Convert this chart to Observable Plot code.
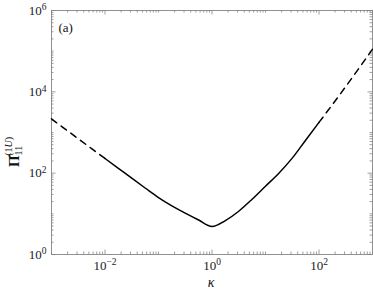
<!DOCTYPE html>
<html><head><meta charset="utf-8">
<script src="https://cdn.jsdelivr.net/npm/d3@7"></script>
<script src="https://cdn.jsdelivr.net/npm/@observablehq/plot@0.6"></script>
<style>body{margin:0;background:#fff}svg{display:block}
svg text{font-family:"Liberation Serif","DejaVu Serif",serif !important}</style>
</head><body><div id="chart"></div>
<script>
// data
const kappa = [0.001, 0.001778, 0.003162, 0.005623, 0.01, 0.01778, 0.03162, 0.05623, 0.1, 0.1778, 0.3162, 0.5623, 1, 1.778, 3.162, 5.623, 10, 17.78, 31.62, 56.23, 100, 177.8, 316.2, 562.3, 1000];
const pi11  = [2158, 1230, 701.5, 400.9, 229.6, 131.5, 75.2, 43.2, 25.1, 15.7, 10.4, 7.05, 4.90, 6.84, 11.6, 22.9, 47.9, 100, 234, 646, 1778, 4842, 13490, 38460, 112200];
const solidRange = [0.01, 100];
const xTickLabels = [1e-2, 1, 1e2];
const xTickExp = ["−2", "0", "2"];
const yTickLabels = [1, 1e2, 1e4, 1e6];
const yTickExp = ["0", "2", "4", "6"];

const rows = kappa.map((k, i) => ({k, v: pi11[i]}));
const leftDash = rows.filter(d => d.k <= solidRange[0]);
const solid = rows.filter(d => d.k >= solidRange[0] && d.k <= solidRange[1]);
const rightDash = rows.filter(d => d.k >= solidRange[1]);

const W = 373, H = 292, mL = 51, mR = 1, mT = 10, mB = 38;
const innerW = W - mL - mR, innerH = H - mT - mB;
const gray = "#858585";

function decadeTicks(lo, hi) {
  const out = [];
  for (let e = lo; e <= hi; e++) {
    for (let m = 1; m <= 9; m++) {
      if (e === hi && m > 1) break;
      out.push(m * Math.pow(10, e));
    }
  }
  return out;
}
const xAll = decadeTicks(-3, 3).filter(v => !xTickLabels.some(t => Math.abs(t - v) / t < 1e-9));
const yAll = decadeTicks(0, 6).filter(v => !yTickLabels.some(t => Math.abs(t - v) / t < 1e-9));

const font = "Liberation Serif";
const chart = Plot.plot({
  width: W, height: H,
  marginLeft: mL, marginRight: mR, marginTop: mT, marginBottom: mB,
  style: {fontSize: "13px", color: "#222", background: "#fff"},
  x: {type: "log", domain: [1e-3, 1e3]},
  y: {type: "log", domain: [1, 1e6]},
  marks: [
    Plot.ruleX(xAll, {x: d => d, insetTop: innerH - 2.5, stroke: gray, strokeWidth: 0.8}),
    Plot.ruleX(xAll, {x: d => d, insetBottom: innerH - 2.5, stroke: gray, strokeWidth: 0.8}),
    Plot.ruleX(xTickLabels, {x: d => d, insetTop: innerH - 4.5, stroke: gray, strokeWidth: 0.8}),
    Plot.ruleX(xTickLabels, {x: d => d, insetBottom: innerH - 4.5, stroke: gray, strokeWidth: 0.8}),
    Plot.ruleY(yAll, {y: d => d, insetRight: innerW - 2.5, stroke: gray, strokeWidth: 0.8}),
    Plot.ruleY(yAll, {y: d => d, insetLeft: innerW - 2.5, stroke: gray, strokeWidth: 0.8}),
    Plot.ruleY(yTickLabels, {y: d => d, insetRight: innerW - 4.5, stroke: gray, strokeWidth: 0.8}),
    Plot.ruleY(yTickLabels, {y: d => d, insetLeft: innerW - 4.5, stroke: gray, strokeWidth: 0.8}),
    Plot.frame({stroke: gray, strokeWidth: 0.9}),
    Plot.axisX(xTickLabels, {tickSize: 0, tickPadding: 6, label: null, fill: "#222",
      tickFormat: (d) => "10^" + xTickExp[xTickLabels.indexOf(d)]}),
    Plot.axisY(yTickLabels, {tickSize: 0, tickPadding: 5, label: null, fill: "#222",
      tickFormat: (d) => "10^" + yTickExp[yTickLabels.indexOf(d)]}),
    Plot.line(leftDash, {x: "k", y: "v", stroke: "#000", strokeWidth: 1.5, strokeDasharray: "6.5,5.5", curve: "monotone-x"}),
    Plot.line(solid, {x: "k", y: "v", stroke: "#000", strokeWidth: 1.5, curve: "monotone-x"}),
    Plot.line(rightDash, {x: "k", y: "v", stroke: "#000", strokeWidth: 1.5, strokeDasharray: "6.5,5.5", curve: "monotone-x"}),
    Plot.text(["(a)"], {frameAnchor: "top-left", dx: 7, dy: 12, fill: "#111", fontSize: 13})
  ]
});

// superscript exponents in tick labels
d3.select(chart).selectAll("text").each(function() {
  const t = d3.select(this);
  const s = t.text();
  const m = /^10\^(.*)$/.exec(s);
  if (m) {
    t.text("");
    t.append("tspan").text("10");
    t.append("tspan").attr("dy", "-0.45em").attr("font-size", "9.5px").text(m[1]);
  }
});

const svg = d3.select(chart);
// x label
svg.append("text").attr("x", 211).attr("y", 287).attr("text-anchor", "middle")
  .attr("font-style", "italic").attr("font-size", "14px").attr("fill", "#111").text("κ");
// y label
const yl = svg.append("text").attr("transform", "translate(19,152) rotate(-90)")
  .attr("fill", "#111").attr("font-size", "15px");
yl.append("tspan").attr("font-weight", "bold").text("Π\u0302");
yl.append("tspan").attr("font-size", "10px").attr("dy", "3").text("11");
yl.append("tspan").attr("font-size", "10px").attr("dx", "-10").attr("dy", "-10").text("(1");
yl.append("tspan").attr("font-size", "10px").attr("font-style", "italic").text("U");
yl.append("tspan").attr("font-size", "10px").text(")");

document.getElementById("chart").append(chart);
</script>
</body></html>
